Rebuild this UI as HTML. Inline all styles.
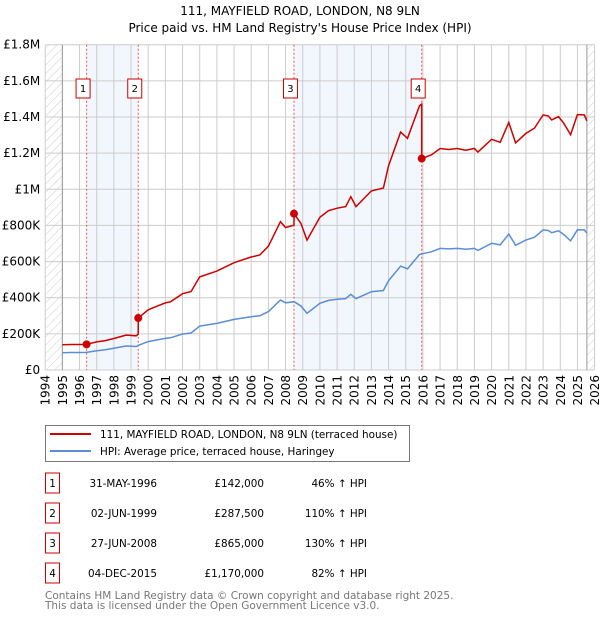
<!DOCTYPE html>
<html><head><meta charset="utf-8"><style>
body{margin:0;background:#fff;font-family:"DejaVu Sans","Liberation Sans",sans-serif;}
svg text{font-family:"DejaVu Sans","Liberation Sans",sans-serif;}
</style></head><body>
<svg id="chart" width="600" height="620" xmlns="http://www.w3.org/2000/svg">
<defs><pattern id="hatch" width="6" height="6" patternUnits="userSpaceOnUse" patternTransform="rotate(45)"><line x1="0" y1="0" x2="0" y2="6" stroke="#ccc" stroke-width="1"/></pattern></defs>
<text x="300" y="15" text-anchor="middle" font-size="12" fill="#000">111, MAYFIELD ROAD, LONDON, N8 9LN</text>
<text x="300" y="32" text-anchor="middle" font-size="12" fill="#000">Price paid vs. HM Land Registry's House Price Index (HPI)</text>
<g id="plot"></g>
<g>
<rect x="45.5" y="425.5" width="364" height="36" fill="#fff" stroke="#777"/>
<line x1="50" y1="434" x2="91" y2="434" stroke="#cc0000" stroke-width="2"/>
<text x="100" y="438" font-size="10.4">111, MAYFIELD ROAD, LONDON, N8 9LN (terraced house)</text>
<line x1="50" y1="451" x2="91" y2="451" stroke="#5b8dd6" stroke-width="2"/>
<text x="100" y="455" font-size="10.4">HPI: Average price, terraced house, Haringey</text>
</g>
<g id="table"></g>
<text x="45" y="599" font-size="10.5" fill="#777">Contains HM Land Registry data © Crown copyright and database right 2025.</text>
<text x="45" y="609" font-size="10.5" fill="#777">This data is licensed under the Open Government Licence v3.0.</text>
</svg>
<script>
const hpiYears=[1995,1995.5,1996,1996.4,1997,1997.5,1998,1998.7,1999.3,1999.45,2000,2000.6,2001,2001.3,2002,2002.5,2003,2004,2005,2006,2006.5,2007,2007.7,2008,2008.5,2008.9,2009.25,2010,2010.5,2011,2011.5,2011.8,2012.1,2013,2013.7,2014,2014.7,2015.1,2015.8,2015.95,2016.5,2017,2017.5,2018,2018.5,2019,2019.2,2020,2020.5,2021,2021.4,2022,2022.5,2023,2023.3,2023.5,2023.9,2024.2,2024.6,2025,2025.4,2025.55];
const hpiValues=[96000,97000,97000,97500,107000,112000,120000,133000,130000,137000,157000,168000,175000,178000,199000,205000,243000,258000,280000,295000,300000,323000,387000,372000,378000,354000,314000,369000,385000,391000,395000,419000,395000,433000,440000,494000,575000,560000,639000,643000,654000,673000,670000,673000,668000,673000,662000,701000,692000,752000,690000,719000,735000,775000,772000,760000,770000,750000,715000,776000,775000,757000];
const saleYears=[1996.41,1999.42,2008.49,2015.93];
const salePrices=[142000,287500,865000,1170000];
const saleLabels=["1","2","3","4"];
const saleDates=["31-MAY-1996","02-JUN-1999","27-JUN-2008","04-DEC-2015"];
const salePriceText=["£142,000","£287,500","£865,000","£1,170,000"];
const saleHpiText=["46% ↑ HPI","110% ↑ HPI","130% ↑ HPI","82% ↑ HPI"];
const yTicks=[0,200000,400000,600000,800000,1000000,1200000,1400000,1600000,1800000];
const yTickLabels=["£0","£200K","£400K","£600K","£800K","£1M","£1.2M","£1.4M","£1.6M","£1.8M"];
const xTicks=[1994,1995,1996,1997,1998,1999,2000,2001,2002,2003,2004,2005,2006,2007,2008,2009,2010,2011,2012,2013,2014,2015,2016,2017,2018,2019,2020,2021,2022,2023,2024,2025,2026];

const NS="http://www.w3.org/2000/svg";
const L=45.2,R=594.6,T=44.7,B=370,X0=1994,X1=2026,YMAX=1800000;
const xs=v=>L+(v-X0)/(X1-X0)*(R-L);
const ys=v=>B-v/YMAX*(B-T);
const plot=document.getElementById('plot');
function mk(tag,attrs,parent){const e=document.createElementNS(NS,tag);for(const k in attrs)e.setAttribute(k,attrs[k]);(parent||plot).appendChild(e);return e;}
function hpiAt(t){for(let i=0;i<hpiYears.length-1;i++){if(t<=hpiYears[i+1]){const f=(t-hpiYears[i])/(hpiYears[i+1]-hpiYears[i]);return hpiValues[i]+f*(hpiValues[i+1]-hpiValues[i]);}}return hpiValues[hpiValues.length-1];}

let bg=mk('rect',{x:L,y:T,width:R-L,height:B-T,fill:'#fff'});


const first=hpiYears[0],last=hpiYears[hpiYears.length-1];
let h1=mk('rect',{x:L,y:T,width:xs(first)-L,height:B-T,fill:'url(#hatch)'});


let h2=mk('rect',{x:xs(last),y:T,width:R-xs(last),height:B-T,fill:'url(#hatch)'});


for(let i=0;i+1<saleYears.length;i+=2){
 let b=mk('rect',{x:xs(saleYears[i]),y:T,width:xs(saleYears[i+1])-xs(saleYears[i]),height:B-T,fill:'#f2f6fd'});
 
 
}
yTicks.forEach((v,i)=>{
 let g=mk('line',{x1:L,x2:R,y1:ys(v),y2:ys(v),stroke:'#ccc','stroke-width':1});
 
 
 let t=mk('text',{x:L-5,y:ys(v)+4,'text-anchor':'end','font-size':12,fill:'#000'});
 t.textContent=yTickLabels[i];
 
 
});
xTicks.forEach(v=>{
 let g=mk('line',{x1:xs(v),x2:xs(v),y1:T,y2:B,stroke:'#ccc','stroke-width':1});
 
 
 let t=mk('text',{x:0,y:0,'text-anchor':'end','font-size':12,fill:'#000',transform:`translate(${xs(v)+4.5},${B+5}) rotate(-90)`});
 t.textContent=String(v);
 
 
});
let a1=mk('line',{x1:xs(first),x2:xs(first),y1:T,y2:B,stroke:'#999'});


let a2=mk('line',{x1:xs(last),x2:xs(last),y1:T,y2:B,stroke:'#999'});


saleYears.forEach(s=>{
 let l=mk('line',{x1:xs(s),x2:xs(s),y1:T,y2:B,stroke:'#e55','stroke-width':1,'stroke-dasharray':'2,2'});
 
 
});
let hp=hpiYears.map((y,i)=>xs(y).toFixed(1)+','+ys(hpiValues[i]).toFixed(1)).join(' ');
let hl=mk('polyline',{points:hp,fill:'none',stroke:'#5b8dd6','stroke-width':1.5});


function saleIdx(t){let k=0;for(let i=0;i<saleYears.length;i++)if(t>=saleYears[i])k=i;return k;}
let pts=[];
const times=[...hpiYears];saleYears.forEach(s=>{times.push(s-0.001);times.push(s);});times.sort((a,b)=>a-b);
times.forEach(t=>{const k=saleIdx(t);const v=salePrices[k]*hpiAt(t)/hpiAt(saleYears[k]);pts.push(xs(t).toFixed(1)+','+ys(v).toFixed(1));});
let pl=mk('polyline',{points:pts.join(' '),fill:'none',stroke:'#cc0000','stroke-width':1.5});


saleYears.forEach((s,i)=>{
 let c=mk('circle',{cx:xs(s),cy:ys(salePrices[i]),r:4,fill:'#cc0000'});
 
 
 let bx=xs(s)-3.5;
 let r=mk('rect',{x:bx-7,y:79,width:14,height:19,fill:'#fff',stroke:'#cc0000'});
 
 
 let t=mk('text',{x:bx,y:92,'text-anchor':'middle','font-size':10,fill:'#000'});
 t.textContent=saleLabels[i];
 
 
});
const tb=document.getElementById('table');
saleLabels.forEach((lab,i)=>{
 const cy=483+i*30;
 let r=mk('rect',{x:45.5,y:cy-10,width:14,height:20,fill:'#fff',stroke:'#cc0000'},tb);
 
 
 let n=mk('text',{x:52.5,y:cy+4,'text-anchor':'middle','font-size':10.4},tb);n.textContent=lab;
 
 
 let d=mk('text',{x:157,y:cy+4,'text-anchor':'end','font-size':10.4},tb);d.textContent=saleDates[i];
 
 
 let p=mk('text',{x:264,y:cy+4,'text-anchor':'end','font-size':10.4},tb);p.textContent=salePriceText[i];
 
 
 let h=mk('text',{x:367,y:cy+4,'text-anchor':'end','font-size':10.4},tb);h.textContent=saleHpiText[i];
 
 
});
</script>
</body></html>
